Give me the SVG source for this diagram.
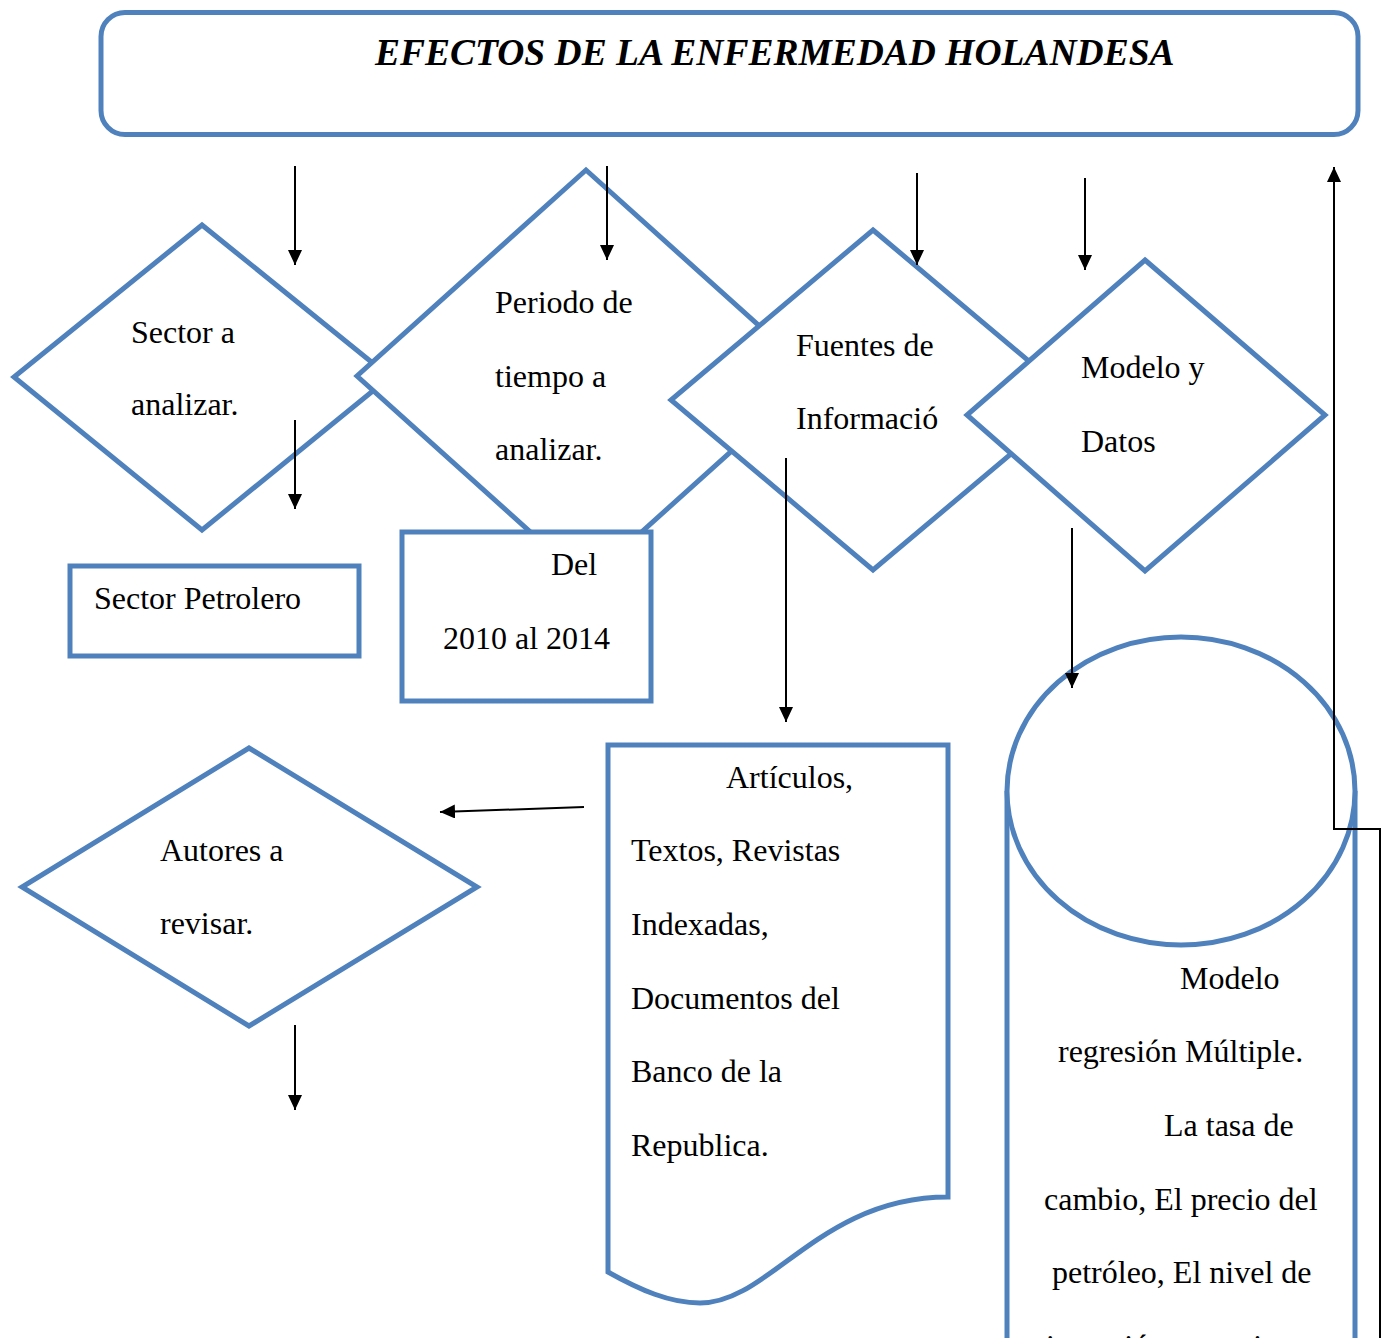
<svg xmlns="http://www.w3.org/2000/svg" width="1383" height="1338" viewBox="0 0 1383 1338">
<style>
.s{fill:#fff;stroke:#4F81BD;stroke-width:5;stroke-linejoin:miter}
.t{font-family:"Liberation Serif","Times New Roman",serif;font-size:32px;fill:#000}
.ti{font-family:"Liberation Serif","Times New Roman",serif;font-size:37.5px;font-weight:bold;font-style:italic;fill:#000}
.c{fill:none;stroke:#000;stroke-width:2}
</style>
<defs>
<marker id="ah" markerUnits="userSpaceOnUse" markerWidth="15" markerHeight="14" refX="15" refY="7" orient="auto">
<path d="M0,0 L15,7 L0,14 Z" fill="#000"/>
</marker>
</defs>
<rect width="1383" height="1338" fill="#fff"/>
<g id="title">
<rect class="s" x="101" y="12.5" width="1257" height="122" rx="24" ry="24"/>
<text class="ti" x="375" y="65">EFECTOS DE LA ENFERMEDAD HOLANDESA</text>
</g>
<g id="sector">
<polygon class="s" points="202,225 390,377 202,530 14,377"/>
<text class="t" x="131" y="343">Sector a</text>
<text class="t" x="131" y="415">analizar.</text>
</g>
<g id="periodo">
<polygon class="s" points="586,170 815,376 586,582 357,376"/>
<text class="t" x="495" y="313">Periodo de</text>
<text class="t" x="495" y="387">tiempo a</text>
<text class="t" x="495" y="460">analizar.</text>
</g>
<g id="fuentes">
<polygon class="s" points="873,230 1075,400 873,570 671,400"/>
<text class="t" x="796" y="356">Fuentes de</text>
<text class="t" x="796" y="429">Informació</text>
</g>
<g id="modelo">
<polygon class="s" points="1145,260 1325,415 1145,571 967,415"/>
<text class="t" x="1081" y="378">Modelo y</text>
<text class="t" x="1081" y="452">Datos</text>
</g>
<g id="sector-petrolero">
<rect class="s" x="70" y="566" width="289" height="90"/>
<text class="t" x="94" y="609">Sector Petrolero</text>
</g>
<g id="del">
<rect class="s" x="402" y="532" width="249" height="169"/>
<text class="t" x="551" y="575">Del</text>
<text class="t" x="443" y="649">2010 al 2014</text>
</g>
<g id="autores">
<polygon class="s" points="249,748 477,887 249,1026 22,887"/>
<text class="t" x="160" y="861">Autores a</text>
<text class="t" x="160" y="934">revisar.</text>
</g>
<g id="documentos">
<path class="s" d="M608,745 H948 V1197 C820,1197 770,1303 700,1303 C670,1303 640,1290 608,1272 Z"/>
<text class="t" x="726" y="788">Artículos,</text>
<text class="t" x="631" y="861">Textos, Revistas</text>
<text class="t" x="631" y="935">Indexadas,</text>
<text class="t" x="631" y="1009">Documentos del</text>
<text class="t" x="631" y="1082">Banco de la</text>
<text class="t" x="631" y="1156">Republica.</text>
</g>
<g id="modelo-regresion">
<path class="s" d="M1007,791 V1360 H1355 V791"/>
<ellipse class="s" cx="1181" cy="791" rx="174" ry="154"/>
<text class="t" x="1180" y="989">Modelo</text>
<text class="t" x="1058" y="1062">regresión Múltiple.</text>
<text class="t" x="1164" y="1136">La tasa de</text>
<text class="t" x="1044" y="1210">cambio, El precio del</text>
<text class="t" x="1052" y="1283">petróleo, El nivel de</text>
<text class="t" x="1046" y="1357">inversión extranjera</text>
</g>
<g id="connectors">
<line class="c" x1="295" y1="166" x2="295" y2="265" marker-end="url(#ah)"/>
<line class="c" x1="607" y1="166" x2="607" y2="260" marker-end="url(#ah)"/>
<line class="c" x1="917" y1="173" x2="917" y2="265" marker-end="url(#ah)"/>
<line class="c" x1="1085" y1="178" x2="1085" y2="270" marker-end="url(#ah)"/>
<line class="c" x1="295" y1="420" x2="295" y2="509" marker-end="url(#ah)"/>
<line class="c" x1="786" y1="458" x2="786" y2="722" marker-end="url(#ah)"/>
<line class="c" x1="1072" y1="528" x2="1072" y2="688" marker-end="url(#ah)"/>
<line class="c" x1="584" y1="807" x2="440" y2="812" marker-end="url(#ah)"/>
<line class="c" x1="295" y1="1025" x2="295" y2="1110" marker-end="url(#ah)"/>
<polyline class="c" points="1380,1345 1380,829 1334,829 1334,167" marker-end="url(#ah)"/>
</g>
</svg>
